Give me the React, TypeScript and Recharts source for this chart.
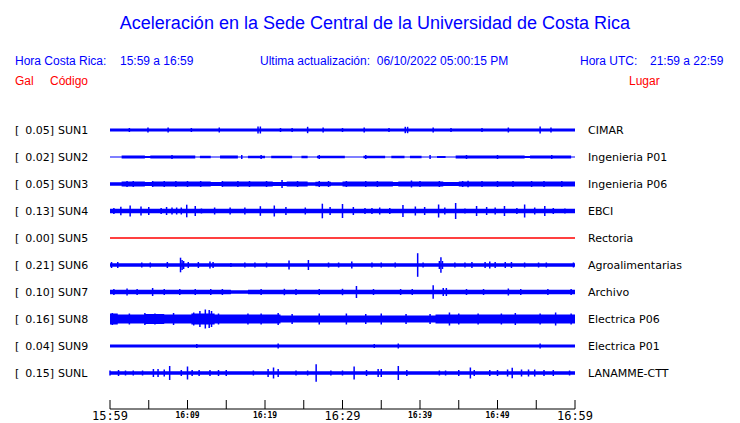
import React from "react";
import { Area, ComposedChart, ErrorBar, Scatter, XAxis, YAxis } from "recharts";

// station labels
const gals = ["0.05", "0.02", "0.05", "0.13", "0.00", "0.21", "0.10", "0.16", "0.04", "0.15"];
const codes = ["SUN1", "SUN2", "SUN3", "SUN4", "SUN5", "SUN6", "SUN7", "SUN8", "SUN9", "SUNL"];
const places = [
  "CIMAR",
  "Ingenieria P01",
  "Ingenieria P06",
  "EBCI",
  "Rectoria",
  "Agroalimentarias",
  "Archivo",
  "Electrica P06",
  "Electrica P01",
  "LANAMME-CTT",
];

// minutes after 15:59
const timeTicks = [0, 5, 10, 15, 20, 25, 30, 35, 40, 45, 50, 55, 60];
const timeLabels = ["15:59", "", "16:09", "", "16:19", "", "16:29", "", "16:39", "", "16:49", "", "16:59"];

// envelope of each trace: [minute, half amplitude] (held until next point)
const env1 = [[0, 1.5], [60, 1.5]];
const env2 = [
  [0, 0.5], [1.5, 1.5], [4.5, 1], [5.2, 1.5], [11, 0.5], [11.6, 1.3], [13, 0.5], [14.2, 1.5],
  [16.5, 0.5], [17.8, 1.2], [20, 0.5], [20.8, 1.3], [23.5, 0.5], [24.7, 1.2], [25.5, 0.5],
  [26.7, 1.3], [30.3, 0.5], [32.7, 1.3], [35.5, 0.5], [36.3, 1.3], [38, 0.5], [38.7, 1.3],
  [40.2, 0.5], [42.2, 1], [43.3, 0.5], [44.6, 1.5], [53.5, 1], [54.2, 1.5], [59.5, 0.5], [60, 0.5],
];
const env3 = [
  [0, 1.8], [1.5, 2.5], [4.5, 2], [5.5, 2.5], [13, 2], [14.5, 2.5], [21, 2], [22.8, 2.5],
  [25.5, 1.8], [26.5, 2.3], [28.5, 1.8], [30, 2.5], [36.5, 2], [37.2, 2.5], [43, 2], [45, 2.5], [60, 2.5],
];
const env4 = [[0, 2.2], [60, 2.2]];
const env5 = [[0, 0.7], [60, 0.7]];
const env6 = [[0, 1.8], [60, 1.8]];
const env7 = [[0, 2.3], [15.6, 1.7], [17.8, 2.3], [60, 2.3]];
const env8 = [
  [0, 5.5], [1, 4.5], [4.5, 5], [7, 4.5], [10.5, 5.5], [13.5, 4.5], [22, 3.5], [42, 4.5], [60, 5],
];
const env9 = [[0, 1.5], [60, 1.5]];
const envL = [[0, 1.7], [60, 1.7]];

// spikes: [minute, half amplitude]
const spikes1 = [
  [2.5, 2], [4.9, 2.5], [7.5, 2.5], [10.5, 2], [14.1, 2.5], [19.1, 3.5], [19.4, 3.5], [22, 2],
  [23.5, 2], [25.5, 3.2], [27.5, 2.5], [30, 2], [32.8, 2.5], [36, 2], [38.1, 3.2], [38.4, 3.2],
  [41.7, 2.5], [44, 2], [48, 2], [51.4, 2.5], [55.5, 3.5], [56.9, 2.5],
];
const spikes2 = [[8, 2], [17, 2], [19.5, 2], [27, 2], [33, 2], [41.3, 2], [46, 2], [50, 2], [57, 2]];
const spikes3 = [
  [2.2, 3], [3, 3], [5.5, 3], [7, 3], [8.5, 3], [10, 3], [11.7, 3], [14.5, 3], [16.5, 3], [18, 3],
  [20.2, 3], [22.2, 4], [24.2, 3], [27, 3], [28.2, 3], [30.5, 3], [33, 3], [34.5, 3], [38.9, 3.5],
  [40, 3], [42.5, 3], [45.5, 3], [46.2, 3.3], [48, 3], [50, 3], [52, 3], [54.4, 3], [56, 3], [58.3, 3],
];
const spikes4 = [
  [0.5, 3], [1.4, 4.3], [2.6, 5.5], [4, 4.5], [5, 4], [6.6, 3], [7.3, 4], [8, 3.5], [8.6, 3.5],
  [9.2, 3.5], [9.9, 6.3], [11, 5], [11.8, 2.5], [13.5, 3.5], [15.5, 3.5], [17.4, 3.5], [19.4, 4.8],
  [21.2, 5.5], [22.7, 4], [25.2, 3.5], [27.4, 7.3], [28.4, 4], [30, 7], [31.4, 4], [32.9, 3],
  [33.8, 3], [34.8, 3.5], [36.1, 3], [37.8, 6], [39.4, 4.5], [40.6, 4], [42.4, 6.5], [43.2, 3.5],
  [44.6, 8], [45.8, 2.5], [47.3, 5], [48.6, 4], [49.7, 3.5], [50.9, 5], [52.5, 3], [53.5, 6.5],
  [54.8, 3.5], [56.1, 5], [57.2, 3], [58.7, 2.5],
];
const spikes5: number[][] = [];
const spikes6 = [
  [0.2, 3], [1, 3], [4.1, 2.5], [5.2, 2.5], [7.4, 3], [9.1, 7.3], [9.3, 5], [9.5, 4], [10.1, 3],
  [11.4, 3], [12.9, 3.5], [13.3, 3], [15.6, 2], [17.4, 2.5], [18.7, 2.5], [20.2, 2.5], [23.1, 4.5],
  [25.6, 5], [28.2, 2.5], [29.5, 2.5], [31.2, 3.5], [33.8, 2.5], [35, 2.5], [36.8, 2.5], [39.7, 11.8],
  [40.4, 2.5], [42.5, 4], [42.7, 7.7], [42.9, 4], [44.5, 2.5], [45.8, 2.5], [46.7, 3], [48.4, 3],
  [49, 3.5], [49.7, 3], [51, 3], [51.8, 3], [53.5, 2.5], [55.3, 2.5], [56.3, 2.5], [59.8, 2.5],
];
const spikes7 = [
  [0.5, 3], [2.2, 3.5], [3.5, 3], [5.5, 4], [7, 3], [9, 3], [11, 3], [13, 3], [14.5, 3], [19.5, 3],
  [22.5, 3.2], [24, 3], [27, 3], [30, 3.2], [31.8, 6], [34, 3], [37.5, 3], [39, 3], [41.7, 6.7],
  [43, 4], [43.4, 4], [46, 3], [48.2, 3], [51.4, 3.5], [53, 3], [56.5, 3], [59.5, 3],
];
const spikes8 = [
  [0.3, 6], [2.5, 5.5], [4.5, 6], [5.8, 5.5], [8.2, 6], [10.8, 6.5], [11.6, 8], [12.3, 9.5],
  [12.8, 9], [13.1, 8], [14, 5.5], [17.8, 5.5], [19.5, 5.5], [21.7, 6], [23.5, 5], [27, 5.5],
  [30.5, 5.5], [33, 5], [35, 5.5], [38.2, 5], [41.3, 5], [43.8, 6.5], [45, 5.5], [47.5, 5.5],
  [50.5, 5.5], [52.3, 6], [55.5, 5.5], [57.5, 6.5], [59.5, 5.5],
];
const spikes9 = [[11.2, 2], [21.7, 2.5], [34.1, 2], [37.2, 2.5], [55.5, 2.5]];
const spikesL = [
  [0, 2.5], [1.1, 3], [2, 2.5], [3, 2.5], [4.2, 2.5], [5.6, 4], [6.2, 4], [7, 3.5], [7.7, 7],
  [9.2, 3], [10, 6.5], [10.6, 3], [11.5, 3], [12.9, 3], [14, 3], [15, 3], [18.5, 2.5], [20.4, 4],
  [21.1, 5.5], [21.7, 4], [24, 2.5], [25.5, 2.5], [26.6, 8.8], [28.5, 2.5], [30, 2.5], [31.5, 6.5],
  [33.1, 3], [34.6, 4], [35, 4], [37.2, 7], [38.3, 3], [42.5, 2.5], [43.3, 2.5], [45, 3], [46.5, 5.5],
  [47, 3], [49, 3], [50, 3], [51.3, 3.5], [51.9, 5.3], [53.1, 3.5], [54, 3.5], [54.8, 3.5], [56, 3],
  [57.2, 3], [59.3, 2.5],
];

const envs = [env1, env2, env3, env4, env5, env6, env7, env8, env9, envL];
const spikeSets = [spikes1, spikes2, spikes3, spikes4, spikes5, spikes6, spikes7, spikes8, spikes9, spikesL];

const BLUE = "#0000ff";
const RED = "#ff0000";
const ROW = 27;
const rowCenters = codes.map((_, i) => ROW / 2 + ROW * i);

const spikeData = spikeSets.flatMap((set, i) =>
  set.map(([t, a]) => ({ t, y: rowCenters[i], e: a }))
);

function LeftTick(props: any) {
  const { y, payload } = props;
  const i = rowCenters.indexOf(payload.value);
  const font = { fontSize: 11, fontFamily: "DejaVu Sans", fill: "#000" };
  return (
    <g>
      <text x={15} y={y + 4} {...font}>[</text>
      <text x={54} y={y + 4} textAnchor="end" {...font}>{gals[i]}]</text>
      <text x={58} y={y + 4} {...font}>{codes[i]}</text>
    </g>
  );
}

function RightTick(props: any) {
  const { y, payload } = props;
  const i = rowCenters.indexOf(payload.value);
  return (
    <text x={588} y={y + 4} fontSize={11} fontFamily="DejaVu Sans" fill="#000">
      {places[i]}
    </text>
  );
}

function TimeTick(props: any) {
  const { x, y, payload } = props;
  const i = timeTicks.indexOf(payload.value);
  const big = i % 6 === 0;
  return (
    <g>
      <line x1={x} x2={x} y1={y - 9} y2={y} stroke="#000" />
      {timeLabels[i] && (
        <text
          x={x}
          y={y + (big ? 11 : 9)}
          textAnchor="middle"
          fontSize={big ? 12 : 8}
          fontWeight={big ? "normal" : "bold"}
          fontFamily="DejaVu Sans Mono"
          fill="#000"
        >
          {timeLabels[i]}
        </text>
      )}
    </g>
  );
}

const head = { position: "absolute" as const, fontFamily: "Liberation Sans", whiteSpace: "pre" as const };

export default function App() {
  return (
    <div style={{ position: "absolute", left: 0, top: 0, width: 740, height: 423, background: "#fff" }}>
      <div style={{ ...head, top: 14, left: 0, width: 750, textAlign: "center", fontSize: 18, lineHeight: "18px", color: BLUE }}>
        Aceleración en la Sede Central de la Universidad de Costa Rica
      </div>
      <div style={{ ...head, top: 55, left: 15, fontSize: 12, lineHeight: "12px", color: BLUE }}>Hora Costa Rica:</div>
      <div style={{ ...head, top: 55, left: 120, fontSize: 12, lineHeight: "12px", color: BLUE }}>15:59 a 16:59</div>
      <div style={{ ...head, top: 55, left: 260, fontSize: 12, lineHeight: "12px", color: BLUE }}>
        Ultima actualización:  06/10/2022 05:00:15 PM
      </div>
      <div style={{ ...head, top: 55, left: 580, fontSize: 12, lineHeight: "12px", color: BLUE }}>Hora UTC:</div>
      <div style={{ ...head, top: 55, left: 650, fontSize: 12, lineHeight: "12px", color: BLUE }}>21:59 a 22:59</div>
      <div style={{ ...head, top: 75, left: 15, fontSize: 12, lineHeight: "12px", color: RED }}>Gal</div>
      <div style={{ ...head, top: 75, left: 50, fontSize: 12, lineHeight: "12px", color: RED }}>Código</div>
      <div style={{ ...head, top: 75, left: 629, fontSize: 12, lineHeight: "12px", color: RED }}>Lugar</div>

      <ComposedChart width={740} height={423} margin={{ top: 116.5, right: 0, bottom: 0, left: 0 }}>
        <XAxis
          dataKey="t"
          type="number"
          domain={[0, 60]}
          ticks={timeTicks}
          interval={0}
          allowDataOverflow
          height={14}
          tickSize={0}
          tickMargin={0}
          tickLine={false}
          axisLine={{ stroke: "#000" }}
          tick={<TimeTick />}
        />
        <YAxis
          yAxisId="l"
          type="number"
          domain={[0, 292.5]}
          reversed
          allowDataOverflow
          ticks={rowCenters}
          interval={0}
          width={110}
          axisLine={false}
          tickLine={false}
          tick={<LeftTick />}
        />
        <YAxis
          yAxisId="r"
          orientation="right"
          type="number"
          domain={[0, 292.5]}
          reversed
          allowDataOverflow
          ticks={rowCenters}
          interval={0}
          width={165}
          axisLine={false}
          tickLine={false}
          tick={<RightTick />}
        />
        {envs.map((env, i) => (
          <Area
            key={codes[i]}
            yAxisId="l"
            type="stepAfter"
            data={env.map(([t, a]) => ({ t, band: [rowCenters[i] - a, rowCenters[i] + a] }))}
            dataKey="band"
            stroke="none"
            fill={codes[i] === "SUN5" ? RED : BLUE}
            fillOpacity={1}
            isAnimationActive={false}
          />
        ))}
        <Scatter
          yAxisId="l"
          data={spikeData}
          dataKey="y"
          shape={() => <g />}
          isAnimationActive={false}
        >
          <ErrorBar dataKey="e" direction="y" width={0} stroke={BLUE} strokeWidth={1.5} isAnimationActive={false} />
        </Scatter>
      </ComposedChart>
    </div>
  );
}
